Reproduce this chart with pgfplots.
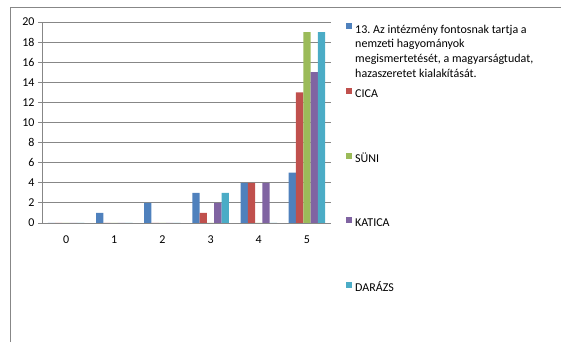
\documentclass[border=0pt]{standalone}
\usepackage{pgfplots}
\pgfplotsset{compat=1.18}
\usepackage{fontspec}
\setmainfont{Carlito}
\frenchspacing
\definecolor{s1}{HTML}{4F81BD}
\definecolor{s2}{HTML}{C0504D}
\definecolor{s3}{HTML}{9BBB59}
\definecolor{s4}{HTML}{8064A2}
\definecolor{s5}{HTML}{4BACC6}
\definecolor{gl}{HTML}{878787}
\newcommand{\entry}[1]{\parbox[t]{200pt}{\raggedright\frenchspacing\fontsize{12}{14.6}\selectfont\vphantom{ÁÜ}#1}}
\begin{document}
\begin{tikzpicture}[x=1pt,y=1pt]
\useasboundingbox (0,0) rectangle (561,342);
\draw[gl,line width=0.8pt] (10,0) -- (10,335) -- (561,335);
\begin{axis}[
  at={(42pt,119pt)}, anchor=south west,
  scale only axis, width=289pt, height=201pt,
  xmin=-0.5, xmax=5.5, ymin=0, ymax=20,
  axis x line=bottom, axis y line=left,
  axis line style={gl, line width=0.8pt, -},
  ytick={0,2,...,20},
  ymajorgrids, grid style={gl, line width=0.8pt},
  xtick={0,1,2,3,4,5},
  xtick style={draw=none},
  xticklabel style={yshift=-5pt},
  extra x ticks={-0.5,0.5,1.5,2.5,3.5,4.5,5.5},
  extra x tick labels={},
  extra x tick style={grid=none, major tick length=4pt, tick style={gl, line width=0.8pt, draw=gl}},
  ytick style={gl, line width=0.8pt},
  tick align=outside, major tick length=4pt,
  ticklabel style={font=\fontsize{12}{14}\selectfont},
  /pgf/number format/assume math mode=true,
  ybar=0pt, bar width=7.3pt,
  legend style={at={(1.052,0.995)}, anchor=north west, draw=none, fill=none,
    inner sep=0pt, row sep=53pt, column sep=3pt, nodes={inner sep=0pt}},
  legend cell align=left,
  legend image code/.code={\fill[#1] (0pt,-0.5pt) rectangle (6pt,5.5pt);},
]
\addplot[fill=s1, draw=none] coordinates {(0,0) (1,1) (2,2) (3,3) (4,4) (5,5)};
\addplot[fill=s2, draw=none] coordinates {(0,0) (1,0) (2,0) (3,1) (4,4) (5,13)};
\addplot[fill=s3, draw=none] coordinates {(0,0) (1,0) (2,0) (3,0) (4,0) (5,19)};
\addplot[fill=s4, draw=none] coordinates {(0,0) (1,0) (2,0) (3,2) (4,4) (5,15)};
\addplot[fill=s5, draw=none] coordinates {(0,0) (1,0) (2,0) (3,3) (4,0) (5,19)};
\legend{\entry{13. Az intézmény fontosnak tartja a\\nemzeti hagyományok\\megismertetését, a magyarságtudat,\\hazaszeretet kialakítását.},
\entry{CICA},\entry{SÜNI},\entry{KATICA},\entry{DARÁZS}}
\end{axis}
\end{tikzpicture}
\end{document}
